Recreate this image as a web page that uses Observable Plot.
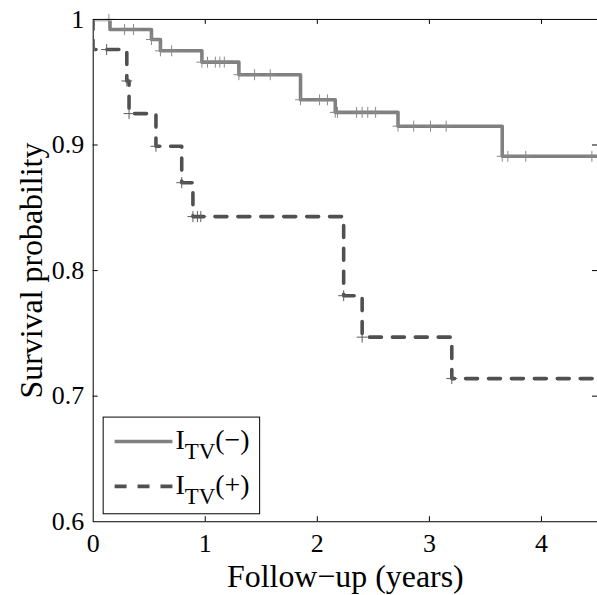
<!DOCTYPE html>
<html>
<head>
<meta charset="utf-8">
<script src="https://cdn.jsdelivr.net/npm/d3@7"></script>
<script src="https://cdn.jsdelivr.net/npm/@observablehq/plot@0.6"></script>
<style>
  html, body { margin: 0; padding: 0; background: #fff; overflow: hidden; }
  #chart { width: 597px; height: 595px; overflow: hidden; }
</style>
</head>
<body>
<div id="chart"></div>
<script>
// ---- data ----
const negTimes  = [0, 0.15, 0.52, 0.60, 0.97, 1.30, 1.85, 2.16, 2.72, 3.65, 4.5];
const negSurv   = [1, 0.992, 0.984, 0.975, 0.966, 0.956, 0.936, 0.926, 0.915, 0.891, 0.891];
const negCensor = [0.14, 0.28, 0.36, 0.52, 0.60, 0.70, 0.97, 1.02, 1.09, 1.13, 1.17, 1.30, 1.44, 1.58,
                   1.85, 2.02, 2.09, 2.16, 2.18, 2.35, 2.40, 2.45, 2.52, 2.72, 2.86, 3.01, 3.15,
                   3.65, 3.70, 3.86, 4.45];

const posTimes  = [0, 0, 0.30, 0.32, 0.56, 0.79, 0.89, 2.235, 2.40, 3.20, 4.5];
const posSurv   = [1, 0.976, 0.951, 0.925, 0.899, 0.870, 0.843, 0.780, 0.747, 0.714, 0.714];
const posCensor = [0.12, 0.30, 0.32, 0.56, 0.79, 0.89, 0.93, 0.96, 2.235, 2.40, 3.20];

const xTicks = [0, 1, 2, 3, 4];
const yTicks = [0.6, 0.7, 0.8, 0.9, 1];
const xLabel = "Follow\u2212up (years)";
const yLabel = "Survival probability";
const legendNames = ["(\u2212)", "(+)"];

// ---- helpers ----
const steps = (ts, vs) => ts.map((t, i) => ({t, s: vs[i]}));
const survAt = (ts, vs, t) => { let v = vs[0]; for (let i = 0; i < ts.length; i++) if (ts[i] <= t) v = vs[i]; return v; };
const censorPts = (cs, ts, vs) => cs.map(t => ({t, s: survAt(ts, vs, t)}));

const plusSymbol = {
  draw(ctx, size) {
    const r = Math.sqrt(size / Math.PI);
    ctx.moveTo(-r, 0); ctx.lineTo(r, 0);
    ctx.moveTo(0, -r); ctx.lineTo(0, r);
  }
};

const FONT = "'Liberation Serif', 'Times New Roman', serif";
const negColor = "#808080";
const posColor = "#505050";

const W = 599, H = 595, ML = 93, MT = 19, MB = 72, MR = 0;
const xDom = [0, 4.5], yDom = [0.6, 1];
const tx = 5 * (xDom[1] - xDom[0]) / (W - ML - MR);   // 5px in x units
const ty = 5 * (yDom[1] - yDom[0]) / (H - MT - MB);   // 5px in y units

const chart = Plot.plot({
  width: W, height: H,
  marginLeft: ML, marginRight: MR, marginTop: MT, marginBottom: MB,
  style: {fontFamily: FONT, background: "#fff", overflow: "visible"},
  x: {domain: xDom},
  y: {domain: yDom},
  marks: [
    Plot.line(steps(negTimes, negSurv), {x: "t", y: "s", curve: "step-after", stroke: negColor, strokeWidth: 3.6, clip: true}),
    Plot.line(steps(posTimes, posSurv), {x: "t", y: "s", curve: "step-after", stroke: posColor, strokeWidth: 3.6, strokeDasharray: "12,11", strokeDashoffset: 2, clip: true}),
    Plot.dot(censorPts(negCensor, negTimes, negSurv), {x: "t", y: "s", symbol: plusSymbol, r: 5.5, stroke: "#8a8a8a", strokeWidth: 1, fill: "none"}),
    Plot.dot(censorPts(posCensor, posTimes, posSurv), {x: "t", y: "s", symbol: plusSymbol, r: 5.5, stroke: "#5c5c5c", strokeWidth: 1, fill: "none"}),
    // inward ticks on all four sides
    Plot.ruleX(xTicks.slice(1), {y1: yDom[0], y2: yDom[0] + ty, stroke: "black"}),
    Plot.ruleX(xTicks.slice(1), {y1: yDom[1], y2: yDom[1] - ty, stroke: "black"}),
    Plot.ruleY(yTicks.slice(1, -1), {x1: xDom[0], x2: xDom[0] + tx, stroke: "black"}),
    Plot.ruleY(yTicks.slice(1, -1), {x1: xDom[1], x2: xDom[1] - tx, stroke: "black"}),
    Plot.frame({stroke: "black", strokeWidth: 1}),
    Plot.axisX({ticks: xTicks, tickSize: 0, tickPadding: 12, fontSize: 26, label: null, tickFormat: d => String(d), fill: "black"}),
    Plot.axisY({ticks: yTicks, tickSize: 0, tickPadding: 9, fontSize: 26, label: null, tickFormat: d => d === 1 ? "1" : d.toFixed(1), fill: "black"}),
    Plot.text([xLabel], {frameAnchor: "bottom", dy: 55, textAnchor: "middle", lineAnchor: "middle", fontSize: 32, fill: "black"}),
    Plot.text([yLabel], {frameAnchor: "left", dx: -62, textAnchor: "middle", lineAnchor: "middle", rotate: -90, fontSize: 32, fill: "black"})
  ]
});

// hide the thin sliver of the lines that lies along the box edge
d3.select(chart).selectAll("clipPath rect").each(function () {
  const r = d3.select(this);
  const x = +r.attr("x"), y = +r.attr("y"), w = +r.attr("width"), h = +r.attr("height");
  r.attr("x", x + 1.5).attr("y", y + 1.5).attr("width", w - 1.5).attr("height", h - 1.5);
});

// ---- legend box inside the axes (bottom-left) ----
const svg = d3.select(chart);
const lg = svg.append("g").attr("font-family", FONT).attr("text-anchor", "start");
lg.append("rect").attr("x", 103.5).attr("y", 418.5).attr("width", 157).attr("height", 97)
  .attr("fill", "white").attr("stroke", "black").attr("stroke-width", 1);
const entries = [
  {name: legendNames[0], color: negColor, dash: null, y: 443},
  {name: legendNames[1], color: posColor, dash: "12,11", y: 488}
];
entries.forEach(e => {
  lg.append("line").attr("x1", 115).attr("x2", 173).attr("y1", e.y).attr("y2", e.y)
    .attr("stroke", e.color).attr("stroke-width", 3.6).attr("stroke-dasharray", e.dash);
  const t = lg.append("text").attr("x", 176).attr("y", e.y + 8).attr("font-size", 28).attr("fill", "black");
  t.append("tspan").text("I");
  t.append("tspan").attr("font-size", 23).attr("dy", 10).text("TV");
  t.append("tspan").attr("dy", -10).text(e.name);
});

document.getElementById("chart").appendChild(chart);
</script>
</body>
</html>
